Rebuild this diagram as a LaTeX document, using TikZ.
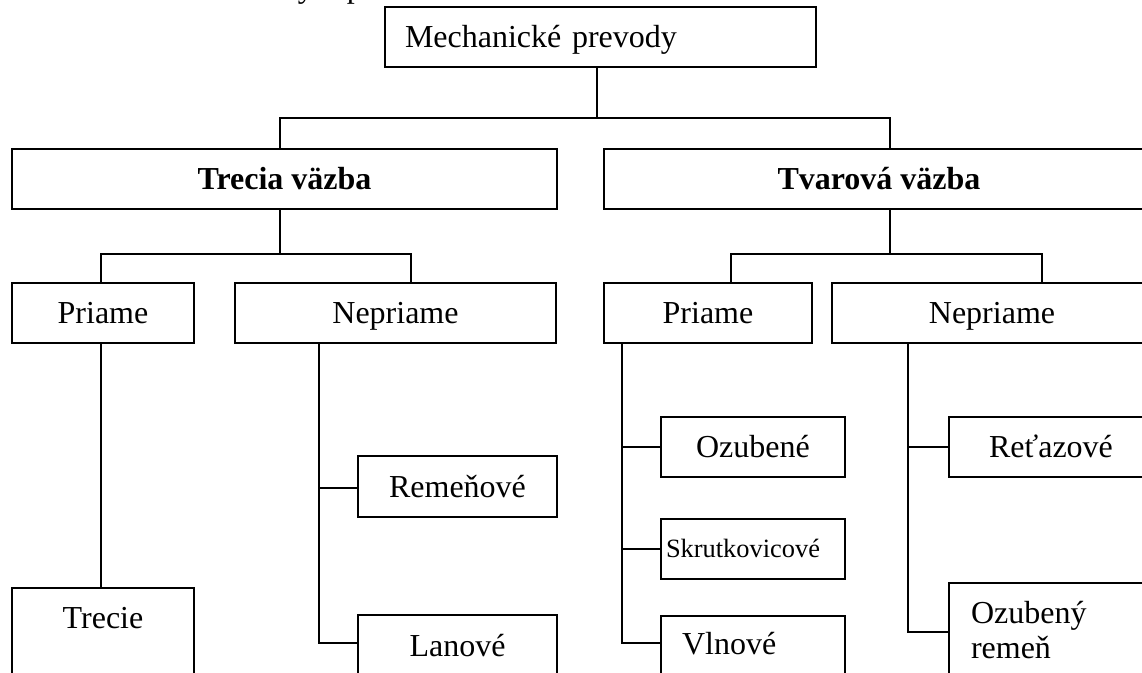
\documentclass[tikz,border=0pt]{standalone}
\usepackage{fontspec}
\setmainfont{Liberation Serif}
\begin{document}
\begin{tikzpicture}[x=0.5pt,y=-0.5pt,line width=0.8pt,
  fn/.style={font=\fontsize{16}{17.5}\selectfont,text height=14.4pt,text depth=3.84pt},
  box/.style={draw,inner sep=0pt,fn},
  bx/.style={font=\fontsize{16}{17.5}\selectfont\bfseries},
  small/.style={font=\fontsize{13.2}{15}\selectfont,text height=11.9pt,text depth=3.2pt}]
\useasboundingbox (0,0) rectangle (1142,673);
\clip (0,0) rectangle (1142,673);
% fragment of the cut-off line above
\node[anchor=base west,inner sep=0pt,font=\fontsize{16}{17.5}\selectfont] (frag) at (297,-2) {y\hspace{16.5pt}p};
% boxes
\node[box,minimum width=215.5pt,minimum height=30pt,inner xsep=10pt,text width=195.5pt,align=left] (M) at (600.5,37) {\mbox{Mechanické prevody}};
\node[box,bx,minimum width=272.5pt,minimum height=30pt] (T) at (284.5,179) {Trecia väzba};
\node[box,bx,minimum width=275pt,minimum height=30pt] (V) at (879,179) {Tvarová väzba};
\node[box,minimum width=91pt,minimum height=30pt] (PL) at (103,313) {Priame};
\node[box,minimum width=160.5pt,minimum height=30pt] (NL) at (395.5,313) {Nepriame};
\node[box,minimum width=104pt,minimum height=30pt] (PR) at (708,313) {Priame};
\node[box,minimum width=160pt,minimum height=30pt] (NR) at (992,313) {Nepriame};
\node[box,minimum width=99.5pt,minimum height=30.5pt] (Rem) at (457.5,486.5) {Remeňové};
\node[box,minimum width=92pt,minimum height=30pt] (Ozb) at (753,447) {Ozubené};
\node[box,small,minimum width=92pt,minimum height=30pt,inner xsep=2.5pt,text width=87pt,align=left] (Skr) at (753,549) {Skrutkovicové};
\node[box,minimum width=102pt,minimum height=30pt] (Ret) at (1051,447) {Reťazové};
\node[box,anchor=north,minimum width=91pt,text height=20.5pt,text depth=46pt] (Trc) at (103,587) {Trecie};
\node[box,anchor=north,minimum width=99.5pt,text height=20.75pt,text depth=32pt] (Lan) at (457.5,614) {Lanové};
\node[box,anchor=north,minimum width=92pt,inner xsep=10.5pt,text width=71pt,align=left,text height=19.25pt,text depth=33pt] (Vln) at (753,615) {Vlnové};
\node[box,anchor=north,minimum width=102pt,inner xsep=11pt,text height=20.5pt,text depth=48.5pt] (OzR) at (1051,582) {\parbox[t]{80pt}{Ozubený\\remeň}};
% connectors
\draw ([xshift=-1.75pt]M.south) -- ++(0,50) coordinate (j1);
\draw ([xshift=-2.25pt]T.north) |- (j1) -| ([xshift=5.5pt]V.north);
\draw ([xshift=-2.25pt]T.south) -- ++(0,44) coordinate (j2);
\draw ([xshift=-1pt]PL.north) |- (j2) -| ([xshift=7.75pt]NL.north);
\draw ([xshift=5.5pt]V.south) -- ++(0,44) coordinate (j3);
\draw ([xshift=11.5pt]PR.north) |- (j3) -| ([xshift=25pt]NR.north);
\draw ([xshift=-1pt]PL.south) -- ([xshift=-1pt]Trc.north);
\draw ([xshift=-38.25pt]NL.south) |- ([yshift=-14.5pt]Lan.north west);
\draw ([xshift=-38.25pt]NL.south) |- ([yshift=-0.75pt]Rem.west);
\draw ([xshift=-43pt]PR.south) |- ([yshift=-14pt]Vln.north west);
\draw ([xshift=-43pt]PR.south) |- (Ozb.west);
\draw ([xshift=-43pt]PR.south) |- (Skr.west);
\draw ([xshift=-42pt]NR.south) |- ([yshift=-25pt]OzR.north west);
\draw ([xshift=-42pt]NR.south) |- (Ret.west);
\end{tikzpicture}
\end{document}
